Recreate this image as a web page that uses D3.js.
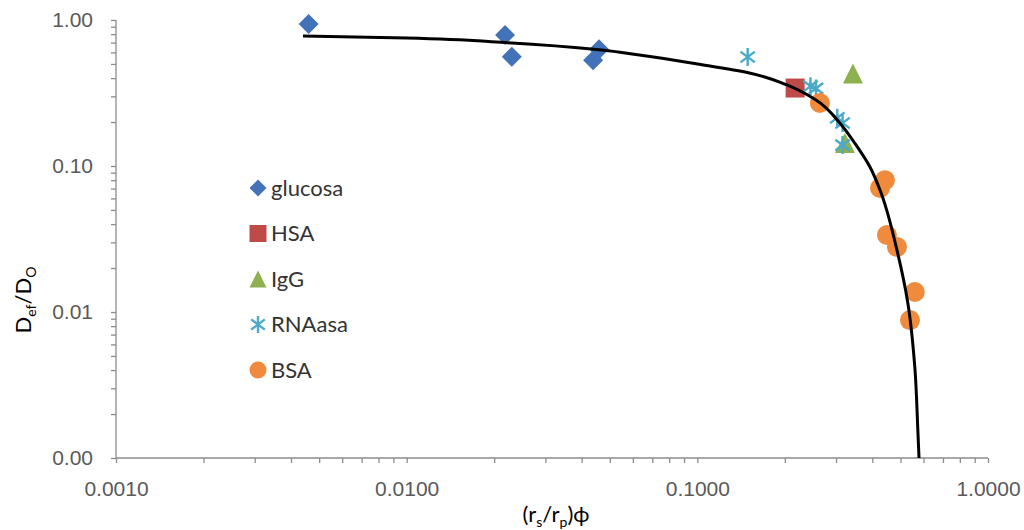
<!DOCTYPE html>
<html>
<head>
<meta charset="UTF-8">
<title>Def/D0 vs (rs/rp)phi</title>
<script src="https://cdn.jsdelivr.net/npm/d3@7/dist/d3.min.js"></script>
<style>
  body { margin: 0; background: #fff; }
  svg { font-family: Lato, "Open Sans", sans-serif; }
  .axis path, .axis line { stroke: #8c8c8c; stroke-width: 1.3; }
  .axis text { fill: #595959; font-size: 21px; }
</style>
</head>
<body>
<svg width="1024" height="530"></svg>
<script>
// series: [x = (rs/rp)phi, y = Def/D0]
var glucosa = [[0.0046, 0.94], [0.0218, 0.79], [0.0230, 0.56], [0.0459, 0.63], [0.0438, 0.53]];
var hsa = [[0.217, 0.342]];
var igg = [[0.343, 0.43], [0.322, 0.144]];
var rnaasa = [[0.149, 0.558], [0.245, 0.352], [0.256, 0.340], [0.303, 0.214], [0.316, 0.197], [0.316, 0.139]];
var bsa = [[0.264, 0.27], [0.442, 0.080], [0.425, 0.0707], [0.449, 0.0337], [0.486, 0.0279], [0.560, 0.0137], [0.539, 0.0088]];

// fitted curve, points
var fit = [[0.0044, 0.777], [0.010, 0.753], [0.0218, 0.70], [0.046, 0.625], [0.0632, 0.576],
           [0.10, 0.50], [0.151, 0.434], [0.203, 0.359], [0.256, 0.283], [0.309, 0.197],
           [0.35, 0.141], [0.393, 0.098], [0.425, 0.0685], [0.486, 0.0266], [0.530, 0.0115],
           [0.560, 0.0042], [0.574, 0.0015], [0.579, 0.001]];

var xTicks = [0.001, 0.01, 0.1, 1];
var yTicks = [0.001, 0.01, 0.1, 1];
var legendNames = ["glucosa", "HSA", "IgG", "RNAasa", "BSA"];
var colors = ["#4472b8", "#be4b48", "#8eb04f", "#4aaac8", "#f08a3c"];

var svg = d3.select("svg");

var x = d3.scaleLog().domain([0.001, 1]).range([116, 988]);
var y = d3.scaleLog().domain([0.001, 1]).range([458, 20]);

// all 1..9 ticks per decade, labels only on the decades
function minorTicks(dom) {
  var out = [];
  for (var e = Math.log10(dom[0]); e < Math.log10(dom[1]); e++)
    for (var k = 1; k < 10; k++) out.push(k * Math.pow(10, e));
  out.push(dom[1]);
  return out;
}
function isIn(list, d) { return list.some(function(t) { return Math.abs(t - d) / t < 1e-6; }); }

svg.append("g")
  .attr("class", "axis")
  .attr("transform", "translate(0," + y(0.001) + ")")
  .call(d3.axisBottom(x).tickValues(minorTicks([0.001, 1])).tickSize(5).tickPadding(18)
    .tickFormat(function(d) { return isIn(xTicks, d) ? d3.format(".4f")(d) : ""; }));

svg.append("g")
  .attr("class", "axis")
  .attr("transform", "translate(" + x(0.001) + ",0)")
  .call(d3.axisLeft(y).tickValues(minorTicks([0.001, 1])).tickSize(5).tickPadding(18)
    .tickFormat(function(d) { return isIn(yTicks, d) ? d3.format(".2f")(d) : ""; }));

svg.selectAll(".axis .domain").attr("d", null);
svg.selectAll(".axis").each(function(d, i) {
  var g = d3.select(this);
  if (i === 0) g.append("line").attr("x1", x(0.001)).attr("x2", x(1)).attr("stroke", "#8c8c8c").attr("stroke-width", 1.3);
  else g.append("line").attr("y1", y(0.001)).attr("y2", y(1)).attr("stroke", "#8c8c8c").attr("stroke-width", 1.3);
});

// marker shapes
function diamond(s) { return d3.symbol(d3.symbolSquare, s * s / 2)(); }
function drawMarker(g, kind, cx, cy, s, color) {
  var m = g.append("g").attr("transform", "translate(" + cx + "," + cy + ")");
  if (kind === 0) {
    m.append("path").attr("d", diamond(s)).attr("transform", "rotate(45)").attr("fill", color);
  } else if (kind === 1) {
    m.append("rect").attr("x", -s / 2).attr("y", -s / 2).attr("width", s).attr("height", s).attr("fill", color);
  } else if (kind === 2) {
    m.append("path").attr("d", "M0," + (-s / 2) + "L" + (s / 2) + "," + (s / 2) + "L" + (-s / 2) + "," + (s / 2) + "Z").attr("fill", color);
  } else if (kind === 3) {
    var r = s / 2;
    var p = "M0," + (-r) + "L0," + r +
            "M" + (-r * 0.8) + "," + (-r * 0.6) + "L" + (r * 0.8) + "," + (r * 0.6) +
            "M" + (-r * 0.8) + "," + (r * 0.6) + "L" + (r * 0.8) + "," + (-r * 0.6);
    m.append("path").attr("d", p).attr("stroke", color).attr("stroke-width", 2.4).attr("fill", "none");
  } else {
    m.append("circle").attr("r", s / 2).attr("fill", color);
  }
}

var seriesList = [glucosa, hsa, igg, rnaasa, bsa];
var plotSizes = [20, 19, 20, 18, 20];
var marks = svg.append("g");
seriesList.forEach(function(data, i) {
  data.forEach(function(d) { drawMarker(marks, i, x(d[0]), y(d[1]), plotSizes[i], colors[i]); });
});

// fitted line
svg.append("path")
  .datum(fit)
  .attr("fill", "none")
  .attr("stroke", "#000")
  .attr("stroke-width", 3)
  .attr("d", d3.line().x(function(d) { return x(d[0]); }).y(function(d) { return y(d[1]); }).curve(d3.curveMonotoneY));

// legend
var legend = svg.append("g");
legendNames.forEach(function(name, i) {
  var ly = 188 + i * 45.5;
  drawMarker(legend, i, 258, ly, 17, colors[i]);
  legend.append("text").attr("x", 271).attr("y", ly).attr("dy", "0.35em")
    .attr("font-size", 22).attr("fill", "#333").text(name);
});

// axis titles
var xt = svg.append("text").attr("x", 556).attr("y", 522).attr("text-anchor", "middle")
  .attr("font-size", 22).attr("fill", "#000");
xt.append("tspan").text("(r");
xt.append("tspan").attr("dy", 5).attr("font-size", 14).text("s");
xt.append("tspan").attr("dy", -5).text("/r");
xt.append("tspan").attr("dy", 5).attr("font-size", 14).text("p");
xt.append("tspan").attr("dy", -5).text(")\u03d5");

var yt = svg.append("text").attr("transform", "translate(31,300) rotate(-90)").attr("text-anchor", "middle")
  .attr("font-size", 22).attr("fill", "#000");
yt.append("tspan").text("D");
yt.append("tspan").attr("dy", 5).attr("font-size", 14).text("ef");
yt.append("tspan").attr("dy", -5).text("/D");
yt.append("tspan").attr("dy", 5).attr("font-size", 14).text("O");
</script>
</body>
</html>
